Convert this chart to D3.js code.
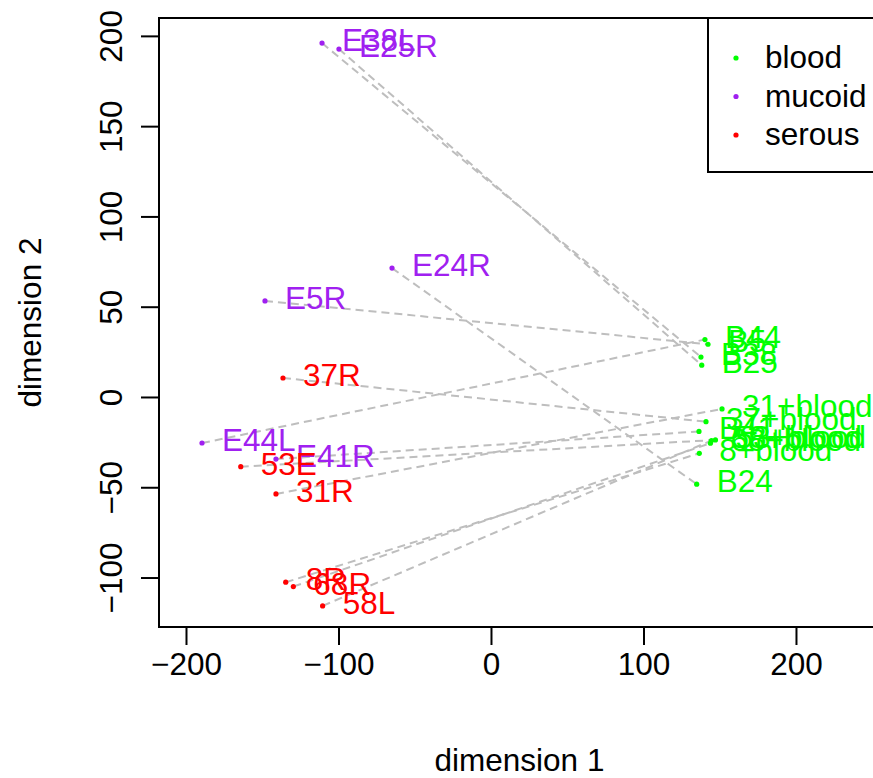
<!doctype html>
<html lang="en">
<head>
<meta charset="UTF-8">
<title>MDS samples</title>
<script src="https://cdn.jsdelivr.net/npm/d3@7"></script>
<style>
  body { margin: 0; background: #fff; }
  svg text { font-family: "Liberation Sans", Arial, sans-serif; }
</style>
</head>
<body>
<div id="chart"></div>
<script>
// sample coordinates
const samples = ["E38L", "E25R", "E24R", "E5R", "E44L", "E41R",
                 "37R", "53E", "31R", "8R", "68R", "58L",
                 "B38", "B25", "B44", "B5", "31+blood", "37+blood",
                 "B41", "58+blood", "53+blood", "68+blood", "8+blood", "B24"]
const groups = ["mucoid", "mucoid", "mucoid", "mucoid", "mucoid", "mucoid",
                "serous", "serous", "serous", "serous", "serous", "serous",
                "blood", "blood", "blood", "blood", "blood", "blood",
                "blood", "blood", "blood", "blood", "blood", "blood"]
const dim1 = [-110.8, -99.7, -64.9, -148.2, -189.5, -141.0,
              -136.4, -164.1, -141.0, -134.6, -129.6, -110.4,
              137.7, 138.2, 140.3, 142.3, 151.5, 141.0,
              136.4, 144.6, 147.2, 143.9, 136.6, 134.9]
const dim2 = [196.0, 192.7, 71.4, 53.2, -25.5, -34.4,
              10.5, -38.6, -53.7, -102.6, -105.0, -115.7,
              22.1, 17.6, 31.8, 29.2, -6.6, -13.7,
              -19.1, -24.1, -23.8, -25.6, -31.2, -48.3]
// pairs: [from, to] sample names joined by a dashed line
const pairs = [["E38L", "B38"], ["E25R", "B25"], ["E24R", "B24"], ["E5R", "B5"],
               ["E44L", "B44"], ["E41R", "B41"], ["37R", "37+blood"], ["53E", "53+blood"],
               ["31R", "31+blood"], ["8R", "8+blood"], ["68R", "68+blood"], ["58L", "58+blood"]]
const legendGroups = ["blood", "mucoid", "serous"]
const groupColors = ["#00ff00", "#a020f0", "#ff0000"]
const xTicks = [-200, -100, 0, 100, 200]
const yTicks = [-100, -50, 0, 50, 100, 150, 200]

const W = 873, H = 778
const plot = {left: 159, right: 880, top: 18, bottom: 627}
const fs = 31.5

const x = d3.scaleLinear().domain([-217.7, 255.1]).range([plot.left, plot.right])
const y = d3.scaleLinear().domain([-127.4, 209.9]).range([plot.bottom, plot.top])
const color = d3.scaleOrdinal().domain(legendGroups).range(groupColors)

const pts = samples.map((s, i) => ({name: s, group: groups[i], x: dim1[i], y: dim2[i]}))
const byName = new Map(pts.map(d => [d.name, d]))

const svg = d3.select('#chart').append('svg')
    .attr('width', W).attr('height', H)

// dashed links
svg.append('g').selectAll('line').data(pairs).join('line')
    .attr('x1', d => x(byName.get(d[0]).x))
    .attr('y1', d => y(byName.get(d[0]).y))
    .attr('x2', d => x(byName.get(d[1]).x))
    .attr('y2', d => y(byName.get(d[1]).y))
    .attr('stroke', '#bebebe')
    .attr('stroke-width', 2)
    .attr('stroke-dasharray', '8,5')

// points
svg.append('g').selectAll('circle').data(pts).join('circle')
    .attr('cx', d => x(d.x)).attr('cy', d => y(d.y))
    .attr('r', 2.6)
    .attr('fill', d => color(d.group))

// labels
svg.append('g').selectAll('text').data(pts).join('text')
    .attr('x', d => x(d.x) + 20)
    .attr('y', d => y(d.y) + 8)
    .attr('font-size', fs)
    .attr('fill', d => color(d.group))
    .text(d => d.name)

// box
svg.append('rect')
    .attr('x', plot.left).attr('y', plot.top)
    .attr('width', plot.right - plot.left).attr('height', plot.bottom - plot.top)
    .attr('fill', 'none').attr('stroke', '#000').attr('stroke-width', 2)

// x axis
const xAxis = d3.axisBottom(x).tickValues(xTicks).tickSize(18).tickPadding(8)
    .tickFormat(d => d3.format('')(d).replace('-', '\u2212'))
const gx = svg.append('g').attr('transform', `translate(0,${plot.bottom})`).call(xAxis)
gx.select('.domain').remove()
gx.selectAll('line').attr('stroke', '#000').attr('stroke-width', 2)
gx.selectAll('text').attr('font-size', fs).attr('fill', '#000')
    .attr('font-family', '"Liberation Sans", Arial, sans-serif')

// y axis
const yAxis = d3.axisLeft(y).tickValues(yTicks).tickSize(18)
    .tickFormat(d => d3.format('')(d).replace('-', '\u2212'))
const gy = svg.append('g').attr('transform', `translate(${plot.left},0)`).call(yAxis)
gy.select('.domain').remove()
gy.selectAll('line').attr('stroke', '#000').attr('stroke-width', 2)
gy.selectAll('text')
    .attr('font-size', fs).attr('fill', '#000')
    .attr('font-family', '"Liberation Sans", Arial, sans-serif')
    .attr('x', null).attr('dy', null)
    .attr('text-anchor', 'middle')
    .attr('transform', 'translate(-37,0) rotate(-90)')

// axis titles
svg.append('text')
    .attr('x', (plot.left + plot.right) / 2).attr('y', 771)
    .attr('text-anchor', 'middle').attr('font-size', fs)
    .text('dimension 1')
svg.append('text')
    .attr('transform', `translate(41,${(plot.top + plot.bottom) / 2}) rotate(-90)`)
    .attr('text-anchor', 'middle').attr('font-size', fs)
    .text('dimension 2')

// legend
const lg = svg.append('g')
lg.append('rect')
    .attr('x', 708).attr('y', plot.top)
    .attr('width', plot.right - 708).attr('height', 172 - plot.top)
    .attr('fill', '#fff').attr('stroke', '#000').attr('stroke-width', 2)
const rows = lg.selectAll('g.row').data(legendGroups).join('g')
    .attr('transform', (d, i) => `translate(0,${58 + i * 38.5})`)
rows.append('circle').attr('cx', 736).attr('cy', 0).attr('r', 2.6)
    .attr('fill', d => color(d))
rows.append('text').attr('x', 765).attr('y', 10)
    .attr('font-size', fs).text(d => d)
</script>
</body>
</html>
